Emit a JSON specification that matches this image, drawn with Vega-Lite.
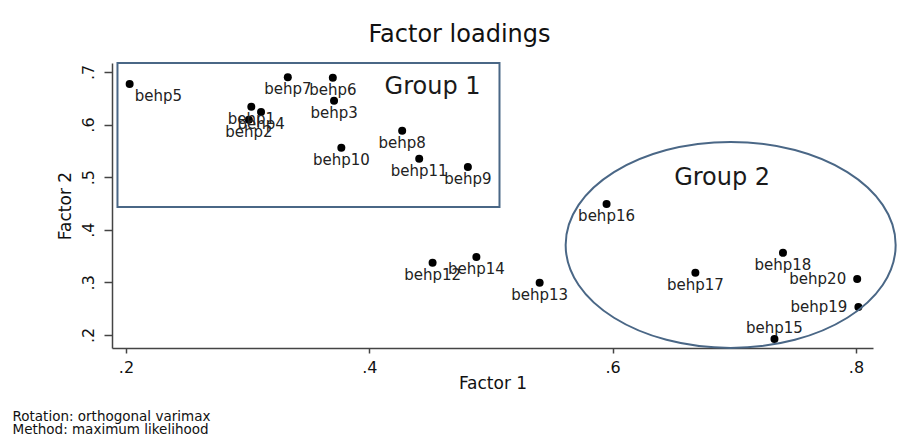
{
  "$schema": "https://vega.github.io/schema/vega-lite/v6.json",
  "autosize": {"type": "none"},
  "width": 761,
  "height": 285,
  "padding": {"left": 112, "top": 63, "right": 27, "bottom": 92},
  "background": "white",
  "title": {
    "text": "Factor loadings",
    "font": "DejaVu Sans",
    "fontSize": 24,
    "fontWeight": "normal",
    "color": "#111111",
    "anchor": "middle",
    "frame": "group",
    "baseline": "alphabetic",
    "dx": -33,
    "offset": -4
  },
  "datasets": {
    "loadings": [
      {"name": "behp1", "f1": 0.303, "f2": 0.634},
      {"name": "behp2", "f1": 0.301, "f2": 0.609},
      {"name": "behp3", "f1": 0.371, "f2": 0.645},
      {"name": "behp4", "f1": 0.311, "f2": 0.624},
      {"name": "behp5", "f1": 0.203, "f2": 0.677},
      {"name": "behp6", "f1": 0.370, "f2": 0.689},
      {"name": "behp7", "f1": 0.333, "f2": 0.690},
      {"name": "behp8", "f1": 0.427, "f2": 0.588},
      {"name": "behp9", "f1": 0.481, "f2": 0.519},
      {"name": "behp10", "f1": 0.377, "f2": 0.556},
      {"name": "behp11", "f1": 0.441, "f2": 0.535},
      {"name": "behp12", "f1": 0.452, "f2": 0.337},
      {"name": "behp13", "f1": 0.540, "f2": 0.299},
      {"name": "behp14", "f1": 0.488, "f2": 0.348},
      {"name": "behp15", "f1": 0.733, "f2": 0.192},
      {"name": "behp16", "f1": 0.595, "f2": 0.449},
      {"name": "behp17", "f1": 0.668, "f2": 0.318},
      {"name": "behp18", "f1": 0.740, "f2": 0.356},
      {"name": "behp19", "f1": 0.802, "f2": 0.253},
      {"name": "behp20", "f1": 0.801, "f2": 0.306}
    ],
    "box": [{"group": "Group 1", "x1": 0.193, "x2": 0.507, "y1": 0.443, "y2": 0.717}],
    "ellipse": [{"group": "Group 2", "cx": 0.697, "cy": 0.371}],
    "groupLabels": [
      {"label": "Group 1", "gx": 0.452, "gy": 0.658},
      {"label": "Group 2", "gx": 0.690, "gy": 0.485}
    ]
  },
  "resolve": {"axis": {"x": "independent"}},
  "layer": [
    {
      "data": {"name": "loadings"},
      "mark": {"type": "point", "shape": "circle", "filled": true, "color": "#000000", "size": 64, "opacity": 1},
      "encoding": {
        "x": {"field": "f1", "type": "quantitative", "title": "Factor 1",
              "scale": {"domain": [0.1885, 0.814], "zero": false, "nice": false},
              "axis": {"orient": "bottom", "values": [0.2, 0.4, 0.6, 0.8], "labelExpr": "substring(format(datum.value, '.1f'), 1)"}},
        "y": {"field": "f2", "type": "quantitative", "title": "Factor 2",
              "scale": {"domain": [0.175, 0.717], "zero": false, "nice": false},
              "axis": {"values": [0.2, 0.3, 0.4, 0.5, 0.6, 0.7], "labelExpr": "substring(format(datum.value, '.1f'), 1)"}}
      }
    },
    {
      "data": {"name": "box"},
      "mark": {"type": "rect", "fill": null, "fillOpacity": 0, "stroke": "#4a6786", "strokeWidth": 2},
      "encoding": {
        "x": {"field": "x1", "type": "quantitative",
              "scale": {"domain": [0.1885, 0.814], "zero": false, "nice": false},
              "axis": {"orient": "bottom", "domain": false, "ticks": false, "labels": false, "grid": false,
                       "title": ["Rotation: orthogonal varimax", "Method: maximum likelihood"],
                       "titleFontSize": 13.5, "titleLineHeight": 13, "titleFont": "DejaVu Sans",
                       "titleAlign": "left", "titleBaseline": "alphabetic", "titleAnchor": "start",
                       "titleX": -100, "titleY": 72, "titleColor": "#111111", "titleFontWeight": "normal"}},
        "x2": {"field": "x2"},
        "y": {"field": "y1", "type": "quantitative", "title": "Factor 2",
              "scale": {"domain": [0.175, 0.717], "zero": false, "nice": false}},
        "y2": {"field": "y2"}
      }
    },
    {
      "data": {"name": "ellipse"},
      "mark": {"type": "point", "shape": "M -1 0 A 1 0.624 0 1 0 1 0 A 1 0.624 0 1 0 -1 0 Z", "size": 108900, "filled": false, "stroke": "#4a6786", "strokeWidth": 2, "opacity": 1},
      "encoding": {
        "x": {"field": "cx", "type": "quantitative", "axis": null,
              "scale": {"domain": [0.1885, 0.814], "zero": false, "nice": false}},
        "y": {"field": "cy", "type": "quantitative", "title": "Factor 2",
              "scale": {"domain": [0.175, 0.717], "zero": false, "nice": false}}
      }
    },
    {
      "data": {"name": "groupLabels"},
      "mark": {"type": "text", "font": "DejaVu Sans", "fontSize": 24, "color": "#1a1a1a", "align": "center", "baseline": "alphabetic"},
      "encoding": {
        "x": {"field": "gx", "type": "quantitative", "axis": null,
              "scale": {"domain": [0.1885, 0.814], "zero": false, "nice": false}},
        "y": {"field": "gy", "type": "quantitative", "title": "Factor 2",
              "scale": {"domain": [0.175, 0.717], "zero": false, "nice": false}},
        "text": {"field": "label"}
      }
    },
    {
      "data": {"name": "loadings"},
      "transform": [{"filter": "indexof(['behp5','behp15','behp19','behp20'], datum.name) < 0"}],
      "mark": {"type": "text", "font": "DejaVu Sans", "fontSize": 15, "color": "#222222", "align": "center", "baseline": "middle", "dy": 12},
      "encoding": {
        "x": {"field": "f1", "type": "quantitative", "axis": null,
              "scale": {"domain": [0.1885, 0.814], "zero": false, "nice": false}},
        "y": {"field": "f2", "type": "quantitative", "title": "Factor 2",
              "scale": {"domain": [0.175, 0.717], "zero": false, "nice": false}},
        "text": {"field": "name"}
      }
    },
    {
      "data": {"name": "loadings"},
      "transform": [{"filter": "datum.name === 'behp5'"}],
      "mark": {"type": "text", "font": "DejaVu Sans", "fontSize": 15, "color": "#222222", "align": "left", "baseline": "middle", "dx": 5, "dy": 12},
      "encoding": {
        "x": {"field": "f1", "type": "quantitative", "axis": null,
              "scale": {"domain": [0.1885, 0.814], "zero": false, "nice": false}},
        "y": {"field": "f2", "type": "quantitative", "title": "Factor 2",
              "scale": {"domain": [0.175, 0.717], "zero": false, "nice": false}},
        "text": {"field": "name"}
      }
    },
    {
      "data": {"name": "loadings"},
      "transform": [{"filter": "datum.name === 'behp19' || datum.name === 'behp20'"}],
      "mark": {"type": "text", "font": "DejaVu Sans", "fontSize": 15, "color": "#222222", "align": "right", "baseline": "middle", "dx": -11, "dy": 0},
      "encoding": {
        "x": {"field": "f1", "type": "quantitative", "axis": null,
              "scale": {"domain": [0.1885, 0.814], "zero": false, "nice": false}},
        "y": {"field": "f2", "type": "quantitative", "title": "Factor 2",
              "scale": {"domain": [0.175, 0.717], "zero": false, "nice": false}},
        "text": {"field": "name"}
      }
    },
    {
      "data": {"name": "loadings"},
      "transform": [{"filter": "datum.name === 'behp15'"}],
      "mark": {"type": "text", "font": "DejaVu Sans", "fontSize": 15, "color": "#222222", "align": "center", "baseline": "middle", "dy": -11},
      "encoding": {
        "x": {"field": "f1", "type": "quantitative", "axis": null,
              "scale": {"domain": [0.1885, 0.814], "zero": false, "nice": false}},
        "y": {"field": "f2", "type": "quantitative", "title": "Factor 2",
              "scale": {"domain": [0.175, 0.717], "zero": false, "nice": false}},
        "text": {"field": "name"}
      }
    }
  ],
  "config": {
    "view": {"stroke": null},
    "axis": {
      "grid": false,
      "domainColor": "#444444",
      "domainWidth": 1.5,
      "tickColor": "#444444",
      "tickWidth": 1.5,
      "labelColor": "#111111",
      "titleColor": "#111111",
      "labelFont": "DejaVu Sans",
      "titleFont": "DejaVu Sans",
      "labelFontSize": 16,
      "titleFontSize": 17,
      "titleFontWeight": "normal"
    },
    "axisX": {"tickSize": 5, "labelPadding": 6, "titlePadding": 0},
    "axisY": {"tickSize": 8, "labelAngle": -90, "labelPadding": 8, "titlePadding": 6}
  }
}
